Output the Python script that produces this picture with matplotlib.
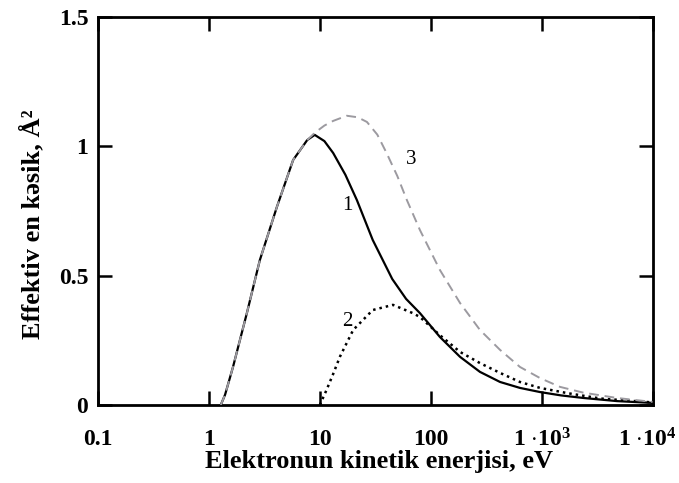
import matplotlib
matplotlib.use("Agg")
import matplotlib.pyplot as plt
from matplotlib.ticker import FixedLocator, NullLocator
from matplotlib.transforms import ScaledTranslation

# energy (eV) and cross section (A^2)
e1 = [1.28, 1.4, 1.65, 2.2, 2.88, 4.1, 5.75, 7.7, 9.0, 11, 13.2, 17, 21.6, 30, 45, 60, 80,
      121, 184, 278, 422, 638, 968, 1500, 2400, 4800, 10000]
s1 = [0.0, 0.04, 0.147, 0.355, 0.56, 0.765, 0.947, 1.024, 1.044, 1.02, 0.974, 0.89, 0.792,
      0.638, 0.487, 0.41, 0.355, 0.263, 0.186, 0.128, 0.089, 0.066, 0.05, 0.037, 0.027,
      0.015, 0.008]

e2 = [10, 11.5, 13.2, 15.2, 20, 30, 45.7, 69, 80, 121, 184, 278, 422, 638, 968, 1700,
      3400, 10000]
s2 = [0.0, 0.058, 0.12, 0.187, 0.29, 0.367, 0.387, 0.355, 0.34, 0.27, 0.205, 0.162,
      0.124, 0.089, 0.066, 0.046, 0.025, 0.01]

e3 = [1.28, 1.4, 1.65, 2.2, 2.88, 4.1, 5.75, 7.7, 9.0, 11, 13.2, 17.5, 22, 26.6, 33, 40,
      50, 61, 80, 121, 184, 278, 422, 638, 968, 1466, 2360, 4800, 10000]
s3 = [0.0, 0.04, 0.147, 0.355, 0.56, 0.765, 0.947, 1.024, 1.052, 1.08, 1.098, 1.118,
      1.112, 1.094, 1.045, 0.974, 0.885, 0.792, 0.676, 0.522, 0.394, 0.29, 0.213, 0.147,
      0.104, 0.07, 0.048, 0.027, 0.012]

curve_labels = ["1", "2", "3"]
label_x = [17.6, 17.6, 67]
label_y = [0.77, 0.322, 0.947]

xticks = [0.1, 1, 10, 100, 1000, 10000]
xticklabels = ["0.1", "1", "10", "100", r"1 $\cdot$10$^3$", r"1 $\cdot$10$^4$"]
yticks = [0, 0.5, 1, 1.5]
yticklabels = ["0", "0.5", "1", "1.5"]

plt.rcParams['font.family'] = ['Liberation Serif', 'DejaVu Serif']
plt.rcParams['mathtext.fontset'] = 'custom'
plt.rcParams['mathtext.rm'] = 'Liberation Serif:bold'
plt.rcParams['mathtext.it'] = 'Liberation Serif:bold'

fig = plt.figure(figsize=(6.79, 4.83), dpi=100)
ax = fig.add_axes([0.1443, 0.1615, 0.8167, 0.8035])

ax.plot(e1, s1, color='black', linewidth=1.6, zorder=2)
ax.plot(e3, s3, color='#9c9aa0', linewidth=1.4, dashes=(5, 3), zorder=3)
ax.plot(e2, s2, color='black', linewidth=1.8, linestyle=(0, (1, 1.6)), zorder=2)

for lab, lx, ly in zip(curve_labels, label_x, label_y):
    ax.text(lx, ly, lab, fontsize=15, ha='center', va='center')

ax.set_xscale('log')
ax.set_xlim(0.1, 10000)
ax.set_ylim(0, 1.5)
ax.xaxis.set_major_locator(FixedLocator(xticks))
ax.xaxis.set_minor_locator(NullLocator())
ax.set_xticklabels(xticklabels)
ax.set_yticks(yticks)
ax.set_yticklabels(yticklabels)

ax.tick_params(direction='in', length=10, width=1.8, top=True, right=True, labelsize=17)
ax.tick_params(axis='x', pad=17)
ax.tick_params(axis='y', pad=7)
for lbl in ax.get_xticklabels() + ax.get_yticklabels():
    lbl.set_fontweight('bold')
for sp in ax.spines.values():
    sp.set_linewidth(2)

# last tick label sits against the right edge in the original
last = ax.get_xticklabels()[-1]
last.set_transform(last.get_transform() + ScaledTranslation(-4 / 72, 0, fig.dpi_scale_trans))

ax.set_xlabel("Elektronun kinetik enerjisi, eV", fontsize=19, fontweight='bold',
              labelpad=-1, x=0.507)
ax.set_ylabel("Effektiv en kəsik, Å²", fontsize=19, fontweight='bold', labelpad=10, y=0.465)

fig.savefig("out.png", dpi=100)
